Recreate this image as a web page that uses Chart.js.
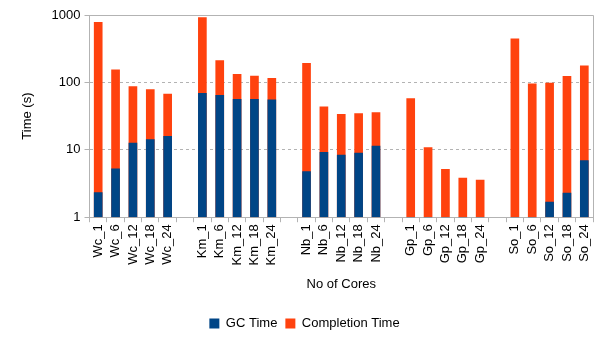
<!DOCTYPE html>
<html>
<head>
<meta charset="utf-8">
<script src="https://cdn.jsdelivr.net/npm/chart.js@4/dist/chart.umd.min.js"></script>
<style>
  html, body { margin: 0; padding: 0; background: #fff; }
  #wrap { width: 604px; height: 340px; }
</style>
</head>
<body>
<div id="wrap"><canvas id="chart"></canvas></div>
<script>
// Categorias (strings vazias = espaço entre grupos)
const labels = [
  'Wc_1', 'Wc_6', 'Wc_12', 'Wc_18', 'Wc_24', '',
  'Km_1', 'Km_6', 'Km_12', 'Km_18', 'Km_24', '',
  'Nb_1', 'Nb_6', 'Nb_12', 'Nb_18', 'Nb_24', '',
  'Gp_1', 'Gp_6', 'Gp_12', 'Gp_18', 'Gp_24', '',
  'So_1', 'So_6', 'So_12', 'So_18', 'So_24'
];

const gcTime = [
  2.35, 5.3, 12.7, 14.4, 16, null,
  69.5, 65, 56.7, 56.5, 56, null,
  4.8, 9.25, 8.45, 9.05, 11.5, null,
  0.5, 0.5, 0.5, 0.5, 0.5, null,
  0.5, 0.9, 1.69, 2.3, 7.0
];

const completionTime = [
  789, 156, 88, 79, 68, null,
  927, 213, 133, 126, 116, null,
  194, 44, 34, 35, 36, null,
  58, 10.9, 5.2, 3.85, 3.6, null,
  448, 96, 99, 124, 178
];

const yTicks = [1, 10, 100, 1000];

// moldura da área do gráfico
const framePlugin = {
  id: 'frame',
  afterDraw(chart) {
    const { ctx, chartArea: a } = chart;
    ctx.save();
    ctx.strokeStyle = '#b3b3b3';
    ctx.lineWidth = 1;
    ctx.beginPath();
    ctx.moveTo(Math.round(a.left) + 0.5, Math.round(a.top) + 0.5);
    ctx.lineTo(Math.round(a.right) + 0.5, Math.round(a.top) + 0.5);
    ctx.lineTo(Math.round(a.right) + 0.5, Math.round(a.bottom) + 0.5);
    ctx.stroke();
    ctx.restore();
  }
};

const font = { family: "'Liberation Sans', Arial, sans-serif", size: 13 };

new Chart(document.getElementById('chart'), {
  type: 'bar',
  data: {
    labels: labels,
    datasets: [
      {
        label: 'GC Time',
        data: gcTime,
        backgroundColor: '#004586',
        barPercentage: 0.5,
        categoryPercentage: 1.0
      },
      {
        label: 'Completion Time',
        data: completionTime,
        backgroundColor: '#ff420e',
        barPercentage: 0.5,
        categoryPercentage: 1.0
      }
    ]
  },
  options: {
    responsive: true,
    maintainAspectRatio: false,
    animation: false,
    layout: { padding: { left: 16, right: 11, top: 15, bottom: 0 } },
    plugins: {
      legend: {
        position: 'bottom',
        labels: { font: font, color: '#000', boxWidth: 10, boxHeight: 10, padding: 8 }
      },
      tooltip: { enabled: false }
    },
    scales: {
      x: {
        stacked: true,
        grid: {
          offset: true,
          drawOnChartArea: false,
          color: '#b3b3b3',
          tickLength: 5
        },
        border: { color: '#b3b3b3' },
        ticks: {
          font: font,
          color: '#000',
          minRotation: 90,
          maxRotation: 90,
          autoSkip: false,
          padding: 2
        },
        title: {
          display: true,
          text: 'No of Cores',
          font: font,
          color: '#000',
          padding: { top: 9, bottom: 17 }
        }
      },
      y: {
        type: 'logarithmic',
        stacked: false,
        min: 1,
        max: 1000,
        afterBuildTicks: axis => { axis.ticks = yTicks.map(v => ({ value: v })); },
        grid: {
          color: '#b3b3b3',
          tickLength: 5
        },
        border: { color: '#b3b3b3', dash: [3, 3] },
        ticks: {
          font: font,
          color: '#000',
          padding: 4,
          callback: v => String(v)
        },
        title: {
          display: true,
          text: 'Time (s)',
          font: font,
          color: '#000',
          padding: { bottom: 12 }
        }
      }
    }
  },
  plugins: [framePlugin]
});
</script>
</body>
</html>
